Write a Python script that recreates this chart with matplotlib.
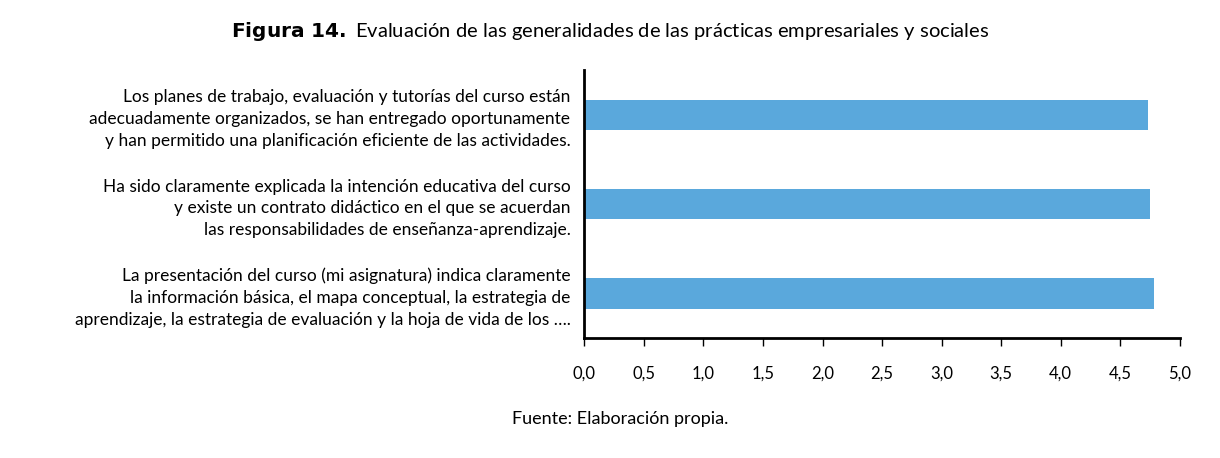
import matplotlib.pyplot as plt

# data (top to bottom in the picture)
labels = [
    "Los planes de trabajo, evaluación y tutorías del curso están\nadecuadamente organizados, se han entregado oportunamente\ny han permitido una planificación eficiente de las actividades.",
    "Ha sido claramente explicada la intención educativa del curso\ny existe un contrato didáctico en el que se acuerdan\nlas responsabilidades de enseñanza-aprendizaje.",
    "La presentación del curso (mi asignatura) indica claramente\nla información básica, el mapa conceptual, la estrategia de\naprendizaje, la estrategia de evaluación y la hoja de vida de los ….",
]
values = [4.73, 4.75, 4.78]
xticks = [0, 0.5, 1, 1.5, 2, 2.5, 3, 3.5, 4, 4.5, 5]

plt.rcParams["font.family"] = "Lato"
fig = plt.figure(figsize=(12.2, 4.58), dpi=100)
ax = fig.add_axes([0.479, 0.262, 0.488, 0.585])

ypos = list(range(len(labels)))[::-1]
ax.barh(ypos, values, height=0.34, color="#5aa8dc")
ax.set_yticks(ypos)
ax.set_yticklabels(labels, fontsize=12.5, linespacing=1.45)
ax.tick_params(axis="y", length=0, pad=10)
ax.set_xlim(0, 5)
ax.set_ylim(-0.5, 2.5)
ax.set_xticks(xticks)
ax.set_xticklabels([f"{v:.1f}".replace(".", ",") for v in xticks], fontsize=12)
ax.tick_params(axis="x", direction="out", length=6, width=1, pad=14)
for s in ["top", "right"]:
    ax.spines[s].set_visible(False)
ax.spines["left"].set_linewidth(2)
ax.spines["bottom"].set_linewidth(2)

fig.text(0.5, 0.92, r"$\bf{Figura\ 14.}$ Evaluación de las generalidades de las prácticas empresariales y sociales",
         ha="center", fontsize=14.5)
fig.text(0.508, 0.075, "Fuente: Elaboración propia.", ha="center", fontsize=13)

fig.savefig("out.png", dpi=100)
